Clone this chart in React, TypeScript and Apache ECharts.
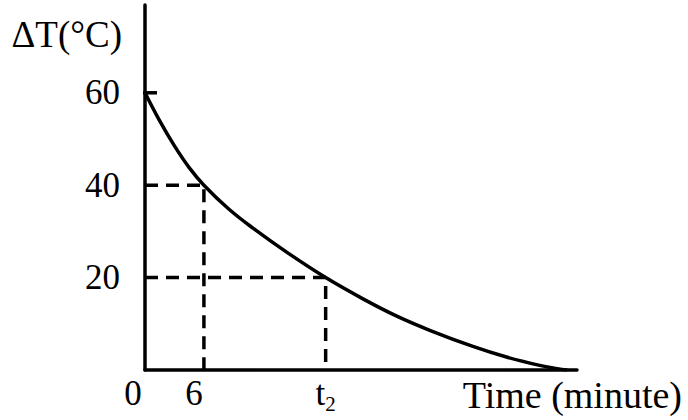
import React, { useEffect, useRef } from "react";
import * as echarts from "echarts";

// Cooling curve (time in minutes, ΔT in °C)
const timeValues = [0, 1.5, 3, 4.5, 6, 8.5, 11, 14.5, 18.4, 22.2, 25.7, 29, 33.4, 36.9, 40.2, 42, 43];
const deltaTValues = [60, 53.9, 48.5, 43.8, 40, 34.9, 30.7, 25.4, 20, 15.4, 11.6, 8.6, 5.1, 2.75, 1.0, 0.3, 0];

// Marked points
const T1 = 6;
const T2 = 18.4;
const markedTemps = [40, 20];
const markedTimes = [T1, T2];

// Axis labels
const yTickLabels = [20, 40, 60];
const xTickValues = [0, T1, T2];
const xTickLabels = ["0", "6", "t2"];
const yTitle = "ΔT(°C)";
const xTitle = "Time (minute)";

const FONT = "'Liberation Serif', 'Times New Roman', serif";

export default function App() {
  const ref = useRef<HTMLDivElement>(null);

  useEffect(() => {
    if (!ref.current) return;
    const chart = echarts.init(ref.current, undefined, { renderer: "svg" });

    const curve = timeValues.map((t, i) => [t, deltaTValues[i]]);
    const dashSeries = markedTemps.map((temp, i) => ({
      type: "line",
      data: [
        [0, temp],
        [markedTimes[i], temp],
        [markedTimes[i], 0],
      ],
      showSymbol: false,
      silent: true,
      lineStyle: { color: "#000", width: 3.5, type: [13, 8] },
      z: 2,
    }));

    chart.setOption({
      animation: false,
      backgroundColor: "#fff",
      grid: {
        left: 145,
        right: 111,
        top: 5,
        bottom: 50,
        containLabel: false,
        outerBoundsMode: "none",
      },
      xAxis: {
        type: "value",
        min: 0,
        max: 44,
        axisLine: { show: true, onZero: false, lineStyle: { color: "#000", width: 3.5 } },
        axisTick: { show: false },
        splitLine: { show: false },
        axisLabel: {
          customValues: xTickValues,
          margin: 6,
          color: "#000",
          fontFamily: FONT,
          fontSize: 35,
          formatter: (v: number) => {
            const idx = xTickValues.findIndex((x) => Math.abs(x - v) < 1e-6);
            if (idx < 0) return "";
            const lab = xTickLabels[idx];
            if (idx === 0) return "{z|" + lab + "}";
            if (idx === 1) return "{a|" + lab + "}";
            return "{t|" + lab.charAt(0) + "}{s|" + lab.slice(1) + "}";
          },
          rich: {
            z: { fontFamily: FONT, fontSize: 35, color: "#000", padding: [0, 24, 0, 0] },
            a: { fontFamily: FONT, fontSize: 35, color: "#000", padding: [0, 20, 0, 0] },
            t: { fontFamily: FONT, fontSize: 35, color: "#000", verticalAlign: "bottom", padding: [0, 0, 3, 0] },
            s: { fontFamily: FONT, fontSize: 21, color: "#000", verticalAlign: "bottom" },
          },
        },
      },
      yAxis: {
        type: "value",
        min: 0,
        max: 79,
        interval: 20,
        axisLine: { show: true, onZero: false, lineStyle: { color: "#000", width: 3.5 } },
        axisTick: { show: false },
        splitLine: { show: false },
        axisLabel: {
          margin: 25,
          color: "#000",
          fontFamily: FONT,
          fontSize: 35,
          formatter: (v: number) => (yTickLabels.includes(v) ? String(v) : ""),
        },
      },
      graphic: [
        {
          type: "text",
          x: 122,
          y: 34,
          style: {
            text: yTitle,
            fontFamily: FONT,
            fontSize: 37,
            fill: "#000",
            align: "right",
            verticalAlign: "middle",
          },
        },
        {
          type: "text",
          x: 682,
          y: 395,
          style: {
            text: xTitle,
            fontFamily: FONT,
            fontSize: 38,
            fill: "#000",
            align: "right",
            verticalAlign: "middle",
          },
        },
      ],
      series: [
        {
          type: "line",
          data: curve,
          smooth: 0.4,
          showSymbol: false,
          silent: true,
          lineStyle: { color: "#000", width: 3.5 },
          z: 3,
        },
        ...dashSeries,
        {
          // tick mark at 60 crossing the vertical axis
          type: "line",
          data: [
            [-1.22, 60],
            [1.22, 60],
          ],
          clip: false,
          showSymbol: false,
          silent: true,
          lineStyle: { color: "#000", width: 3.5 },
          z: 4,
        },
      ],
    });

    return () => chart.dispose();
  }, []);

  return (
    <div
      ref={ref}
      style={{ position: "absolute", left: 0, top: 0, width: 688, height: 420, background: "#fff" }}
    />
  );
}
